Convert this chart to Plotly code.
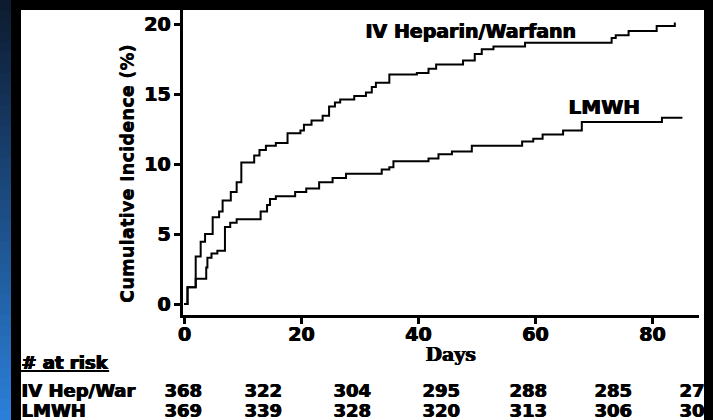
import plotly.graph_objects as go

# ---------------- data ----------------
iv_days = [0, 0.6, 2.0, 2.85, 3.6, 4.9, 6.0, 6.6, 8.0, 9.0, 9.8, 12.0, 12.9, 14.0, 15.7,
           17.7, 19.9, 20.5, 21.8, 23.7, 24.8, 25.8, 26.7, 29.1, 31.1, 32.1, 32.8, 35.1,
           39.8, 41.8, 43.1, 47.7, 49.7, 50.9, 52.9, 58.3, 73.1, 73.8, 76.0, 80.8, 83.9]
iv_vals = [0, 1.2, 3.4, 4.45, 5.0, 6.2, 6.6, 7.4, 8.0, 8.7, 10.1, 10.6, 11.0, 11.3, 11.5,
           12.2, 12.4, 12.8, 13.1, 13.45, 14.1, 14.4, 14.6, 14.86, 15.1, 15.5, 15.8, 16.4,
           16.5, 16.8, 17.1, 17.4, 17.86, 18.2, 18.4, 18.66, 19.0, 19.2, 19.5, 19.86, 20.1]

lmwh_days = [0, 0.6, 2.0, 3.8, 4.0, 4.7, 5.7, 7.0, 7.9, 9.0, 13.1, 14.2, 14.7, 15.7, 19.0,
             20.9, 23.1, 25.4, 27.7, 33.8, 35.1, 35.8, 41.8, 43.5, 45.8, 49.2, 57.8, 59.7,
             61.3, 64.8, 68.0, 81.7, 85.2]
lmwh_vals = [0, 1.2, 1.8, 2.6, 3.3, 3.6, 3.8, 5.5, 5.8, 6.05, 6.6, 7.07, 7.5, 7.7, 8.0,
             8.25, 8.7, 9.0, 9.3, 9.6, 9.76, 10.2, 10.4, 10.7, 10.9, 11.3, 11.6, 11.8,
             12.1, 12.4, 13.0, 13.3, 13.3]

x_ticks = [0, 20, 40, 60, 80]
y_ticks = [0, 5, 10, 15, 20]

risk_header = "# at risk"
risk_groups = ["IV Hep/War", "LMWH"]
risk_iv = ["368", "322", "304", "295", "288", "285", "279"]
risk_lmwh = ["369", "339", "328", "320", "313", "306", "302"]

label_iv = "IV Heparin/Warfann"
label_lmwh = "LMWH"
x_title = "Days"
y_title = "Cumulative Incidence (%)"

# ---------------- layout helpers (pixel geometry) ----------------
W, H = 713, 420
L, R, T, B = 183, 699, 10, 315   # plot area in pixels


def px(xp):
    return (xp - L) / (R - L)


def py(yp):
    return (B - yp) / (B - T)


FONT = "DejaVu Sans"
HEAVY = "1px 0px 0px #000, 0.5px 0px 0px #000"


def bold(size, family=FONT, shadow=HEAVY):
    return dict(family=family, size=size, color="black", weight="bold", shadow=shadow)


fig = go.Figure()
fig.add_trace(go.Scatter(x=iv_days, y=iv_vals, mode="lines", line=dict(color="black", width=2, shape="hv"),
                         name=label_iv, showlegend=False, hoverinfo="skip"))
fig.add_trace(go.Scatter(x=lmwh_days, y=lmwh_vals, mode="lines", line=dict(color="black", width=2, shape="hv"),
                         name=label_lmwh, showlegend=False, hoverinfo="skip"))

shapes = []
# left blue gradient strip
n = 40
top_c = (13, 27, 48)
bot_c = (43, 127, 216)
for i in range(n):
    f = i / (n - 1)
    c = tuple(int(round(top_c[k] + (bot_c[k] - top_c[k]) * f)) for k in range(3))
    y0 = H * i / n
    y1 = H * (i + 1) / n + 1
    shapes.append(dict(type="rect", xref="paper", yref="paper", x0=px(0), x1=px(11),
                       y0=py(y1), y1=py(y0), fillcolor="rgb(%d,%d,%d)" % c, line=dict(width=0), layer="below"))
# white panel
shapes.append(dict(type="rect", xref="paper", yref="paper", x0=px(21), x1=px(704), y0=py(H + 2), y1=py(10),
                   fillcolor="white", line=dict(width=0), layer="below"))

fig.update_layout(shapes=shapes)

ann = []
ann.append(dict(text=label_iv, x=px(470), y=py(31), xref="paper", yref="paper", showarrow=False,
                font=bold(19), xanchor="center", yanchor="middle"))
ann.append(dict(text=label_lmwh, x=px(603), y=py(107), xref="paper", yref="paper", showarrow=False,
                font=bold(20), xanchor="center", yanchor="middle"))
ann.append(dict(text=y_title, x=px(127), y=py(174), xref="paper", yref="paper", showarrow=False, textangle=-90,
                font=dict(family=FONT, size=18, color="black", weight="bold",
                          shadow="0px -1px 0px #000"),
                xanchor="center", yanchor="middle"))
ann.append(dict(text=x_title, x=px(450), y=py(354), xref="paper", yref="paper", showarrow=False,
                font=bold(19, family="DejaVu Serif"), xanchor="center", yanchor="middle"))
ann.append(dict(text="<u>" + risk_header + "</u>", x=px(19), y=py(362), xref="paper", yref="paper", showarrow=False,
                font=bold(18), xanchor="left", yanchor="middle"))
row_y = [390, 410]
col_x = [182.5, 262.5, 352, 441, 528, 613, 698]
for gname, vals, ry in zip(risk_groups, [risk_iv, risk_lmwh], row_y):
    ann.append(dict(text=gname, x=px(19), y=py(ry), xref="paper", yref="paper", showarrow=False,
                    font=bold(18), xanchor="left", yanchor="middle"))
    for v, cx in zip(vals, col_x):
        ann.append(dict(text=v, x=px(cx), y=py(ry), xref="paper", yref="paper", showarrow=False,
                        font=bold(18), xanchor="center", yanchor="middle"))
fig.update_layout(annotations=ann)

x_per_px = 20 / 117.0
x0 = -(184 - L) * x_per_px
x1 = x0 + (R - L) * x_per_px
y_per_px = 1 / 14.0
y0 = -(B - 304) * y_per_px
y1 = y0 + (B - T) * y_per_px

fig.update_layout(
    width=W, height=H,
    margin=dict(l=L, r=W - R, t=T, b=H - B, pad=0),
    paper_bgcolor="black",
    plot_bgcolor="white",
    showlegend=False,
    xaxis=dict(range=[x0, x1], tickvals=x_ticks, ticktext=[str(t) for t in x_ticks], showline=True,
               linecolor="black", linewidth=3, ticks="outside", ticklen=6, tickwidth=3, tickcolor="black",
               showgrid=False, zeroline=False, fixedrange=True, ticklabelstandoff=-6,
               tickfont=bold(19)),
    yaxis=dict(range=[y0, y1], tickvals=y_ticks, ticktext=[str(t) for t in y_ticks], showline=True,
               linecolor="black", linewidth=3, ticks="outside", ticklen=6, tickwidth=3, tickcolor="black",
               showgrid=False, zeroline=False, fixedrange=True,
               tickfont=bold(19)),
)

fig.write_html("out.html")
